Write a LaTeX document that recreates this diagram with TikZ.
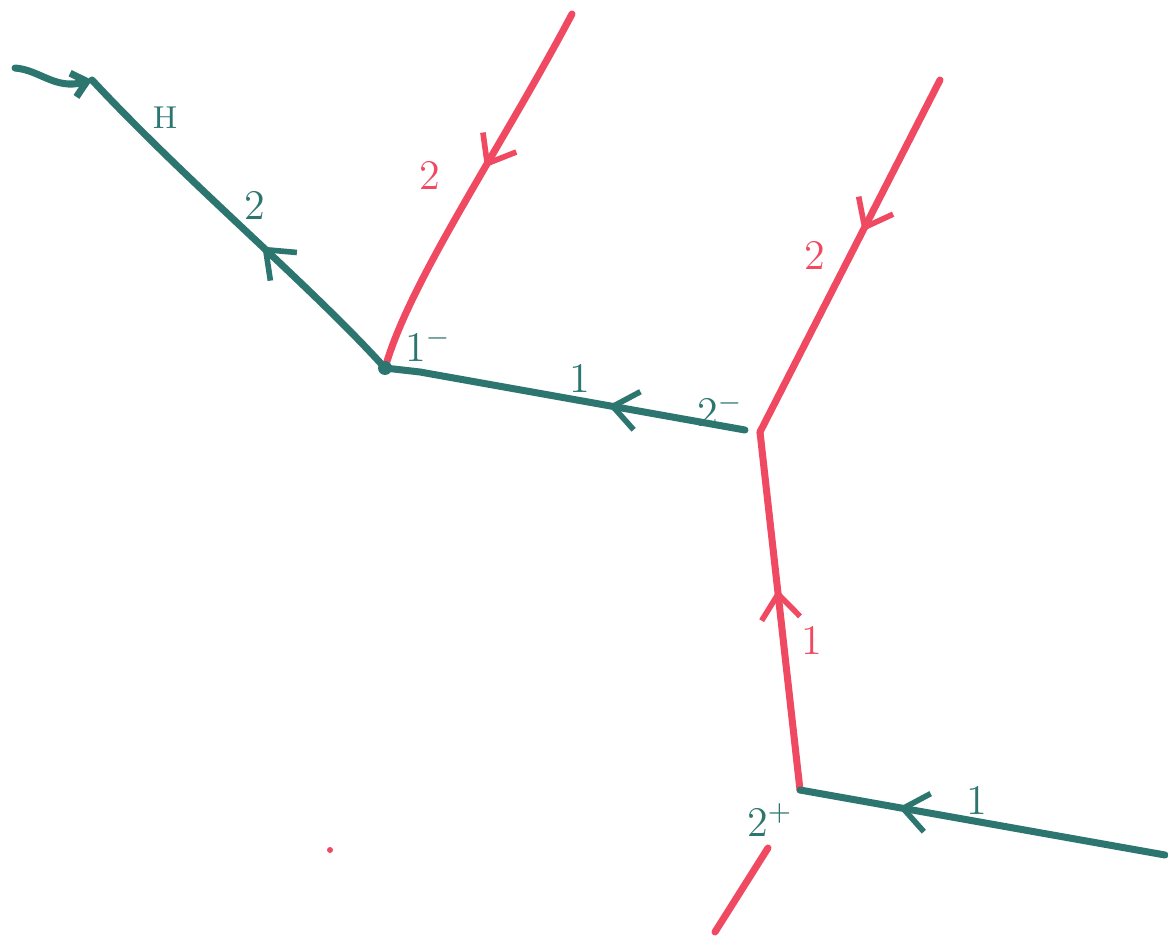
\documentclass[tikz,border=0pt]{standalone}
\usepackage{amsmath}
\usetikzlibrary{arrows.meta,decorations.markings}

\definecolor{verde}{RGB}{45,118,112}
\definecolor{rosso}{RGB}{240,74,98}

\tikzset{
  linea/.style={line width=2pt, line cap=round, line join=round},
  freccia/.style={postaction={decorate}, decoration={markings,
      mark=at position #1 with {\arrow{Straight Barb[length=7pt,width=11pt,line width=1.6pt]}}}},
  etic/.style={font=\large, inner sep=0pt},
}

\begin{document}
\begin{tikzpicture}
        \useasboundingbox (0,0) rectangle (11.68,-9.41);
        % NODI
        \coordinate (h0) at (0.15,-0.68);
        \coordinate (h1) at (0.92,-0.80);
        \coordinate (v1) at (3.85,-3.68);
        \coordinate (r1) at (5.72,-0.14);
        \coordinate (s1) at (7.45,-4.30);
        \coordinate (v2) at (7.60,-4.32);
        \coordinate (r2) at (9.40,-0.80);
        \coordinate (v3) at (8.00,-7.90);
        \coordinate (g3) at (11.65,-8.55);
        \coordinate (r3a) at (7.68,-8.48);
        \coordinate (r3b) at (7.15,-9.32);
        \coordinate (pt) at (3.30,-8.50);

        % PROPAGATORI
        \draw[linea, verde, -{Straight Barb[length=4pt,width=7pt]}]
            (h0) .. controls (0.40,-0.70) and (0.55,-0.90) .. (h1);
        \draw[linea, verde, freccia=0.42] (v1) .. controls (3.1,-2.85) and (1.9,-1.85) .. (h1);
        \draw[linea, rosso, freccia=0.44] (r1) .. controls (5.0,-1.5) and (4.1,-2.8) .. (v1);
        \draw[linea, verde, freccia=0.38] (s1) -- (4.20,-3.72) -- (v1);
        \draw[linea, rosso, freccia=0.43] (r2) -- (v2);
        \draw[linea, rosso, freccia=0.56] (v3) -- (v2);
        \draw[linea, verde, freccia=0.73] (g3) -- (v3);
        \draw[linea, rosso] (r3a) -- (r3b);
        \fill[verde] (v1) circle (0.07);
        \fill[rosso] (pt) circle (0.03);

        % ETICHETTE
        \node[etic, verde, font=\small] (lH) at (1.65,-1.18) {H};
        \node[etic, verde] (lq) at (2.55,-2.05) {2};
        \node[etic, rosso] (lr1) at (4.30,-1.75) {2};
        \node[etic, verde] (lv1) at (4.28,-3.45) {1$^-$};
        \node[etic, verde] (ls1) at (5.80,-3.78) {1};
        \node[etic, verde] (ls2) at (7.20,-4.10) {2$^-$};
        \node[etic, rosso] (lr2) at (8.15,-2.55) {2};
        \node[etic, rosso] (lr3) at (8.12,-6.40) {1};
        \node[etic, verde] (lv3) at (7.70,-8.20) {2$^+$};
        \node[etic, verde] (lg3) at (9.77,-8.00) {1};
\end{tikzpicture}
\end{document}
